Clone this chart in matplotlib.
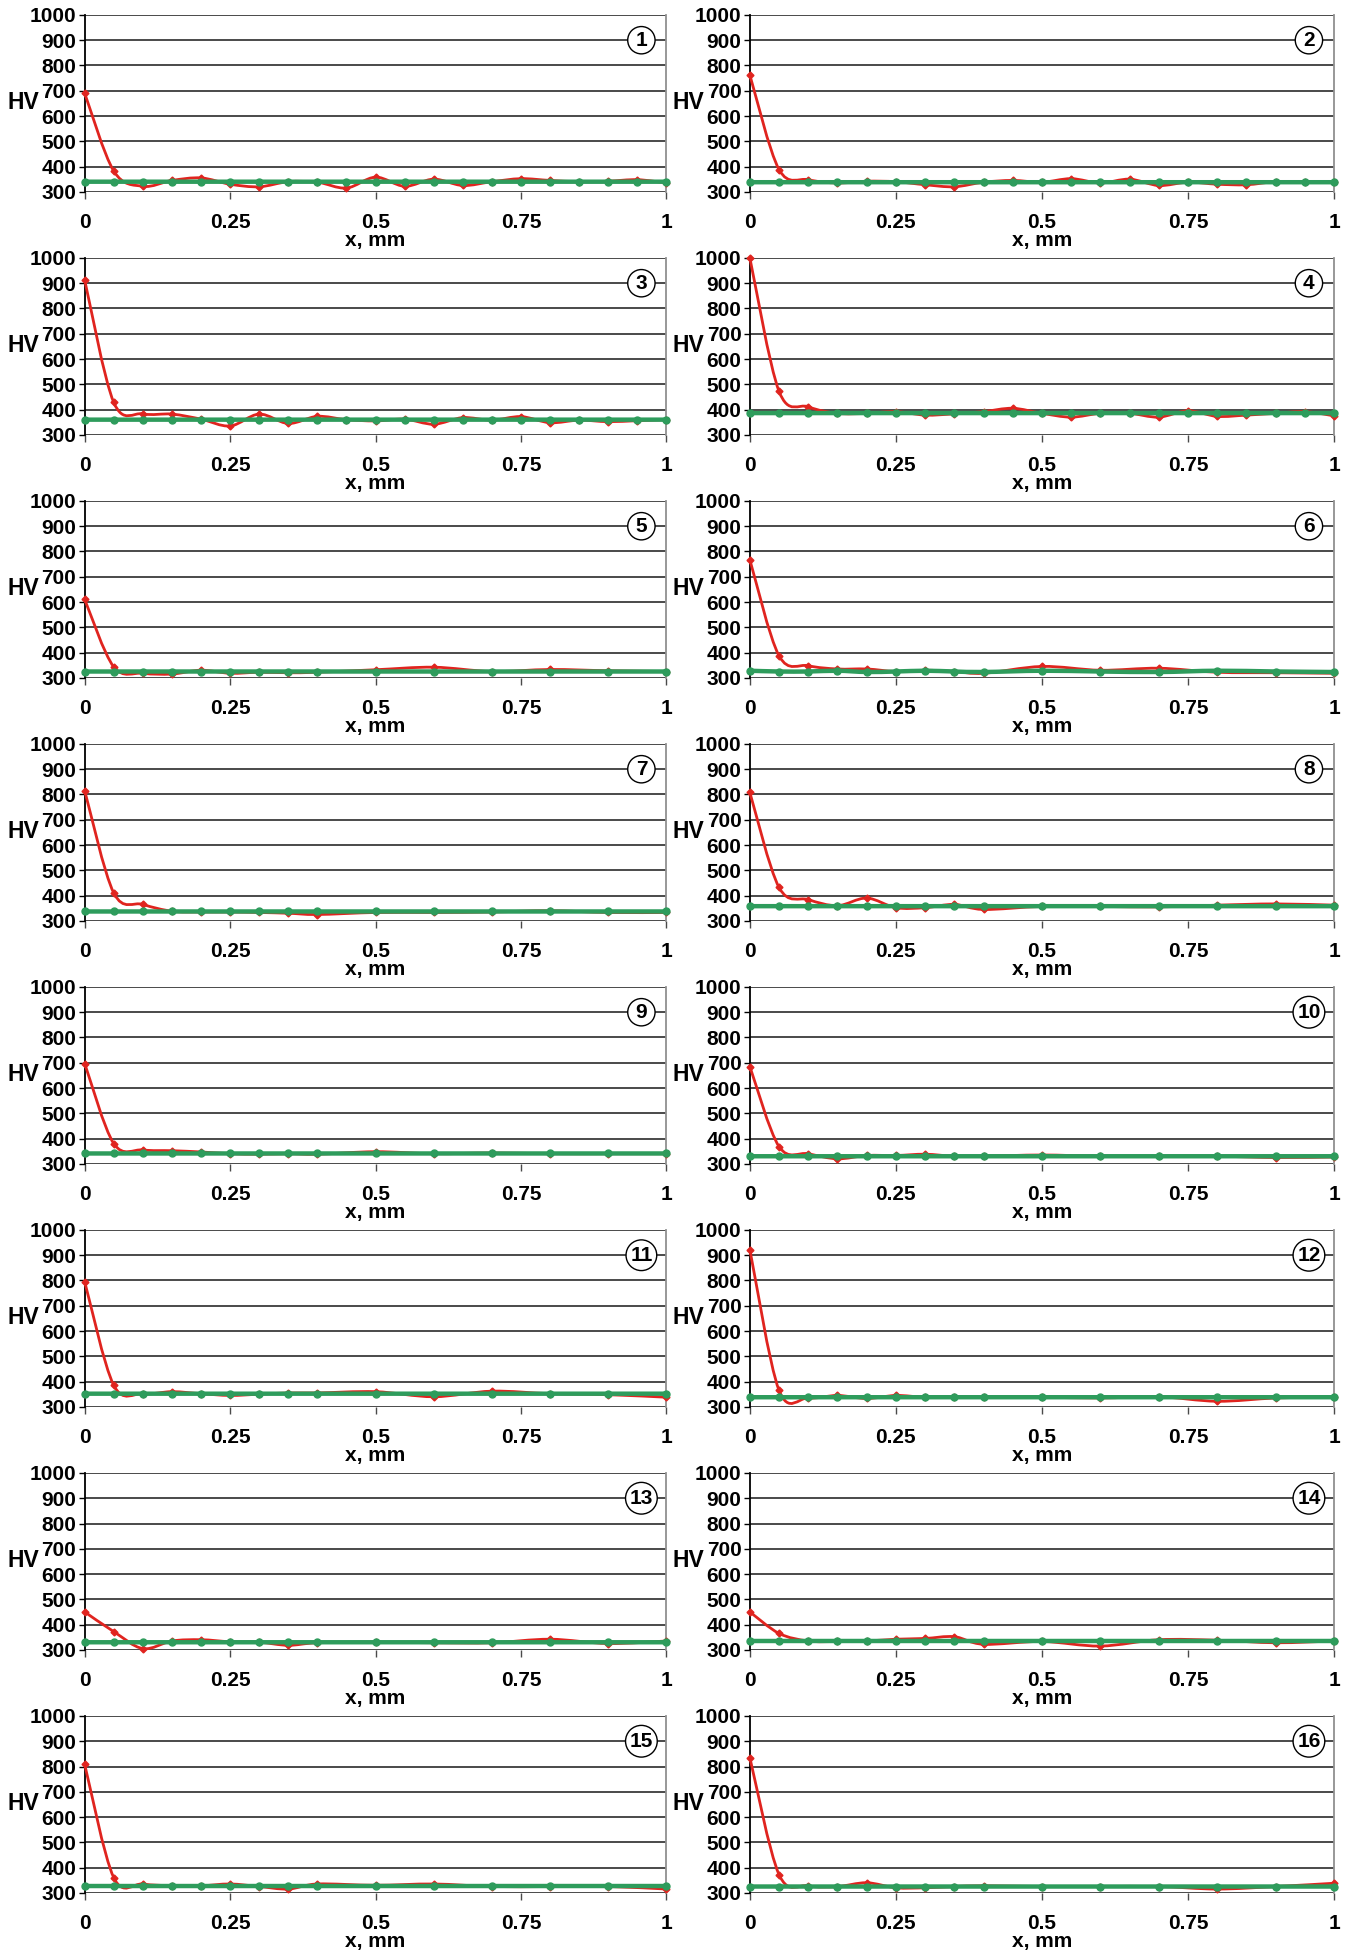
#!/usr/bin/env python3
# -*- coding: utf-8 -*-

# ------------------------------------------------------------------------------
#   Imports
# ------------------------------------------------------------------------------
import matplotlib
matplotlib.use('Agg')
import matplotlib.pyplot as plt
from matplotlib.path import Path
from matplotlib.patches import PathPatch

# ------------------------------------------------------------------------------
#   Data (HV vs depth x, mm)
# ------------------------------------------------------------------------------
# panels 1-4 measured every 0.05 mm, panels 5-16 on a coarser grid past 0.4 mm
x_fine = [0, 0.05, 0.1, 0.15, 0.2, 0.25, 0.3, 0.35, 0.4, 0.45, 0.5,
          0.55, 0.6, 0.65, 0.7, 0.75, 0.8, 0.85, 0.9, 0.95, 1.0]
x_coarse = [0, 0.05, 0.1, 0.15, 0.2, 0.25, 0.3, 0.35, 0.4, 0.5, 0.6, 0.7, 0.8, 0.9, 1.0]

red_1 = [690, 382, 322, 345, 355, 330, 320, 340, 338, 315, 358,
         322, 350, 325, 340, 352, 345, 340, 342, 348, 335]
red_2 = [762, 388, 348, 335, 342, 340, 328, 320, 338, 345, 338,
         352, 335, 350, 325, 338, 330, 328, 340, 340, 340]
red_3 = [912, 428, 383, 382, 362, 335, 382, 345, 373, 360, 355,
         362, 342, 368, 358, 372, 348, 358, 352, 356, 360]
red_4 = [1000, 472, 411, 385, 385, 392, 378, 383, 392, 405, 385,
         370, 385, 385, 370, 395, 373, 378, 385, 392, 375]
red_5 = [610, 343, 318, 315, 330, 318, 322, 320, 322, 332, 342, 325, 333, 328, 325]
red_6 = [767, 387, 348, 335, 335, 325, 330, 325, 318, 345, 330, 338, 322, 320, 318]
red_7 = [815, 410, 365, 338, 335, 335, 333, 330, 325, 333, 333, 335, 340, 333, 333]
red_8 = [808, 432, 384, 360, 390, 352, 352, 365, 345, 357, 357, 355, 362, 367, 362]
red_9 = [697, 380, 355, 352, 347, 340, 338, 340, 338, 348, 340, 343, 340, 340, 340]
red_10 = [685, 368, 340, 320, 333, 333, 338, 330, 330, 335, 330, 330, 330, 325, 327]
red_11 = [795, 385, 352, 360, 352, 345, 350, 355, 355, 360, 340, 362, 352, 348, 338]
red_12 = [922, 365, 335, 345, 333, 345, 338, 340, 338, 338, 335, 340, 322, 335, 340]
red_13 = [450, 372, 305, 335, 340, 332, 330, 318, 328, 330, 328, 328, 342, 325, 335]
red_14 = [450, 365, 335, 333, 335, 342, 345, 352, 322, 333, 315, 340, 338, 328, 335]
red_15 = [808, 360, 335, 328, 328, 335, 325, 315, 335, 330, 335, 325, 325, 325, 315]
red_16 = [835, 372, 328, 325, 340, 320, 320, 325, 328, 325, 325, 325, 315, 325, 338]

green_1 = [340] * 21
green_2 = [338] * 21
green_3 = [360] * 21
green_4 = [386] * 21
green_5 = [325] * 15
green_6 = [328, 325, 325, 328, 323, 325, 328, 325, 323, 328, 325, 323, 328, 325, 323]
green_7 = [337] * 15
green_8 = [358] * 15
green_9 = [341] * 15
green_10 = [330] * 15
green_11 = [352] * 15
green_12 = [338] * 15
green_13 = [330] * 15
green_14 = [335] * 15
green_15 = [327] * 15
green_16 = [325] * 15

reds = [red_1, red_2, red_3, red_4, red_5, red_6, red_7, red_8,
        red_9, red_10, red_11, red_12, red_13, red_14, red_15, red_16]
greens = [green_1, green_2, green_3, green_4, green_5, green_6, green_7, green_8,
          green_9, green_10, green_11, green_12, green_13, green_14, green_15, green_16]

x_ticks = [0, 0.25, 0.5, 0.75, 1]
x_tick_labels = ['0', '0.25', '0.5', '0.75', '1']
y_ticks = [300, 400, 500, 600, 700, 800, 900, 1000]

RED = '#e0241f'
GREEN = '#2e9c5c'
FONT = ['Liberation Sans Narrow', 'Liberation Sans', 'DejaVu Sans']


def smooth_path(x, y):
    # Excel-style smoothed line: cubic Bezier through every point
    n = len(x)
    verts = [(x[0], y[0])]
    codes = [Path.MOVETO]
    for i in range(n - 1):
        a = max(i - 1, 0)
        b = min(i + 2, n - 1)
        c1 = (x[i] + (x[i + 1] - x[a]) / 6, y[i] + (y[i + 1] - y[a]) / 6)
        c2 = (x[i + 1] - (x[b] - x[i]) / 6, y[i + 1] - (y[b] - y[i]) / 6)
        verts += [c1, c2, (x[i + 1], y[i + 1])]
        codes += [Path.CURVE4] * 3
    return Path(verts, codes)


def main():
    plt.rcParams['font.family'] = FONT
    plt.rcParams['font.weight'] = 'bold'

    fig = plt.figure(figsize=(13.49, 19.53), dpi=100)

    H = 1568.0
    W = 1083.0
    col_left = [68 / W, 602 / W]
    col_width = [467 / W, 469 / W]

    for k in range(16):
        row = k // 2
        col = k % 2
        top = 12 + 195.1 * row
        ax = fig.add_axes([col_left[col], 1 - (top + 142) / H, col_width[col], 142 / H])

        xs = x_fine if len(reds[k]) == 21 else x_coarse

        # grid / frame
        for v in y_ticks:
            ax.axhline(v, color='#3c3c3c', lw=1.3, zorder=1)
        ax.set_xlim(0, 1)
        ax.set_ylim(300, 1000)
        ax.spines['top'].set_visible(False)
        ax.spines['bottom'].set_visible(False)
        ax.spines['left'].set_color('black')
        ax.spines['left'].set_linewidth(1.3)
        ax.spines['right'].set_color('#909090')
        ax.spines['right'].set_linewidth(1.3)

        # red: measured, smoothed line
        ax.add_patch(PathPatch(smooth_path(xs, reds[k]), fill=False, edgecolor=RED,
                               lw=2.0, zorder=3, clip_on=False))
        ax.plot(xs, reds[k], linestyle='none', marker='D', ms=3.5, color=RED,
                zorder=4, clip_on=False)
        # green: reference level
        ax.add_patch(PathPatch(smooth_path(xs, greens[k]), fill=False, edgecolor=GREEN,
                               lw=3.2, zorder=5, clip_on=False))
        ax.plot(xs, greens[k], linestyle='none', marker='o', ms=5, color=GREEN,
                zorder=6, clip_on=False)

        ax.set_xticks(x_ticks)
        ax.set_xticklabels(x_tick_labels)
        ax.set_yticks(y_ticks)
        ax.tick_params(axis='x', direction='out', length=5, width=1, color='#4a4a4a',
                       pad=10, labelsize=15)
        ax.tick_params(axis='y', direction='out', length=4, width=1, pad=2, labelsize=15)
        for lab in ax.get_xticklabels() + ax.get_yticklabels():
            lab.set_fontweight('bold')

        ax.annotate('x, mm', xy=(0.5, 0), xycoords='axes fraction', xytext=(0, -35),
                    textcoords='offset points', ha='center', va='center',
                    fontsize=15, fontweight='bold')
        ax.text(-0.105, 655, 'HV', transform=ax.get_yaxis_transform(),
                ha='center', va='center', fontsize=16.5, fontweight='bold')
        ax.text(0.957, 900, str(k + 1), transform=ax.get_yaxis_transform(),
                ha='center', va='center', fontsize=15, fontweight='bold', zorder=10,
                bbox=dict(boxstyle='circle,pad=0.2', fc='white', ec='black', lw=1.0))

    fig.savefig('out.png', dpi=100, facecolor='white')


# ----------------------------------------------------------------------
#   Core
# ----------------------------------------------------------------------
if __name__ == '__main__':
    plt.close('all')
    main()
